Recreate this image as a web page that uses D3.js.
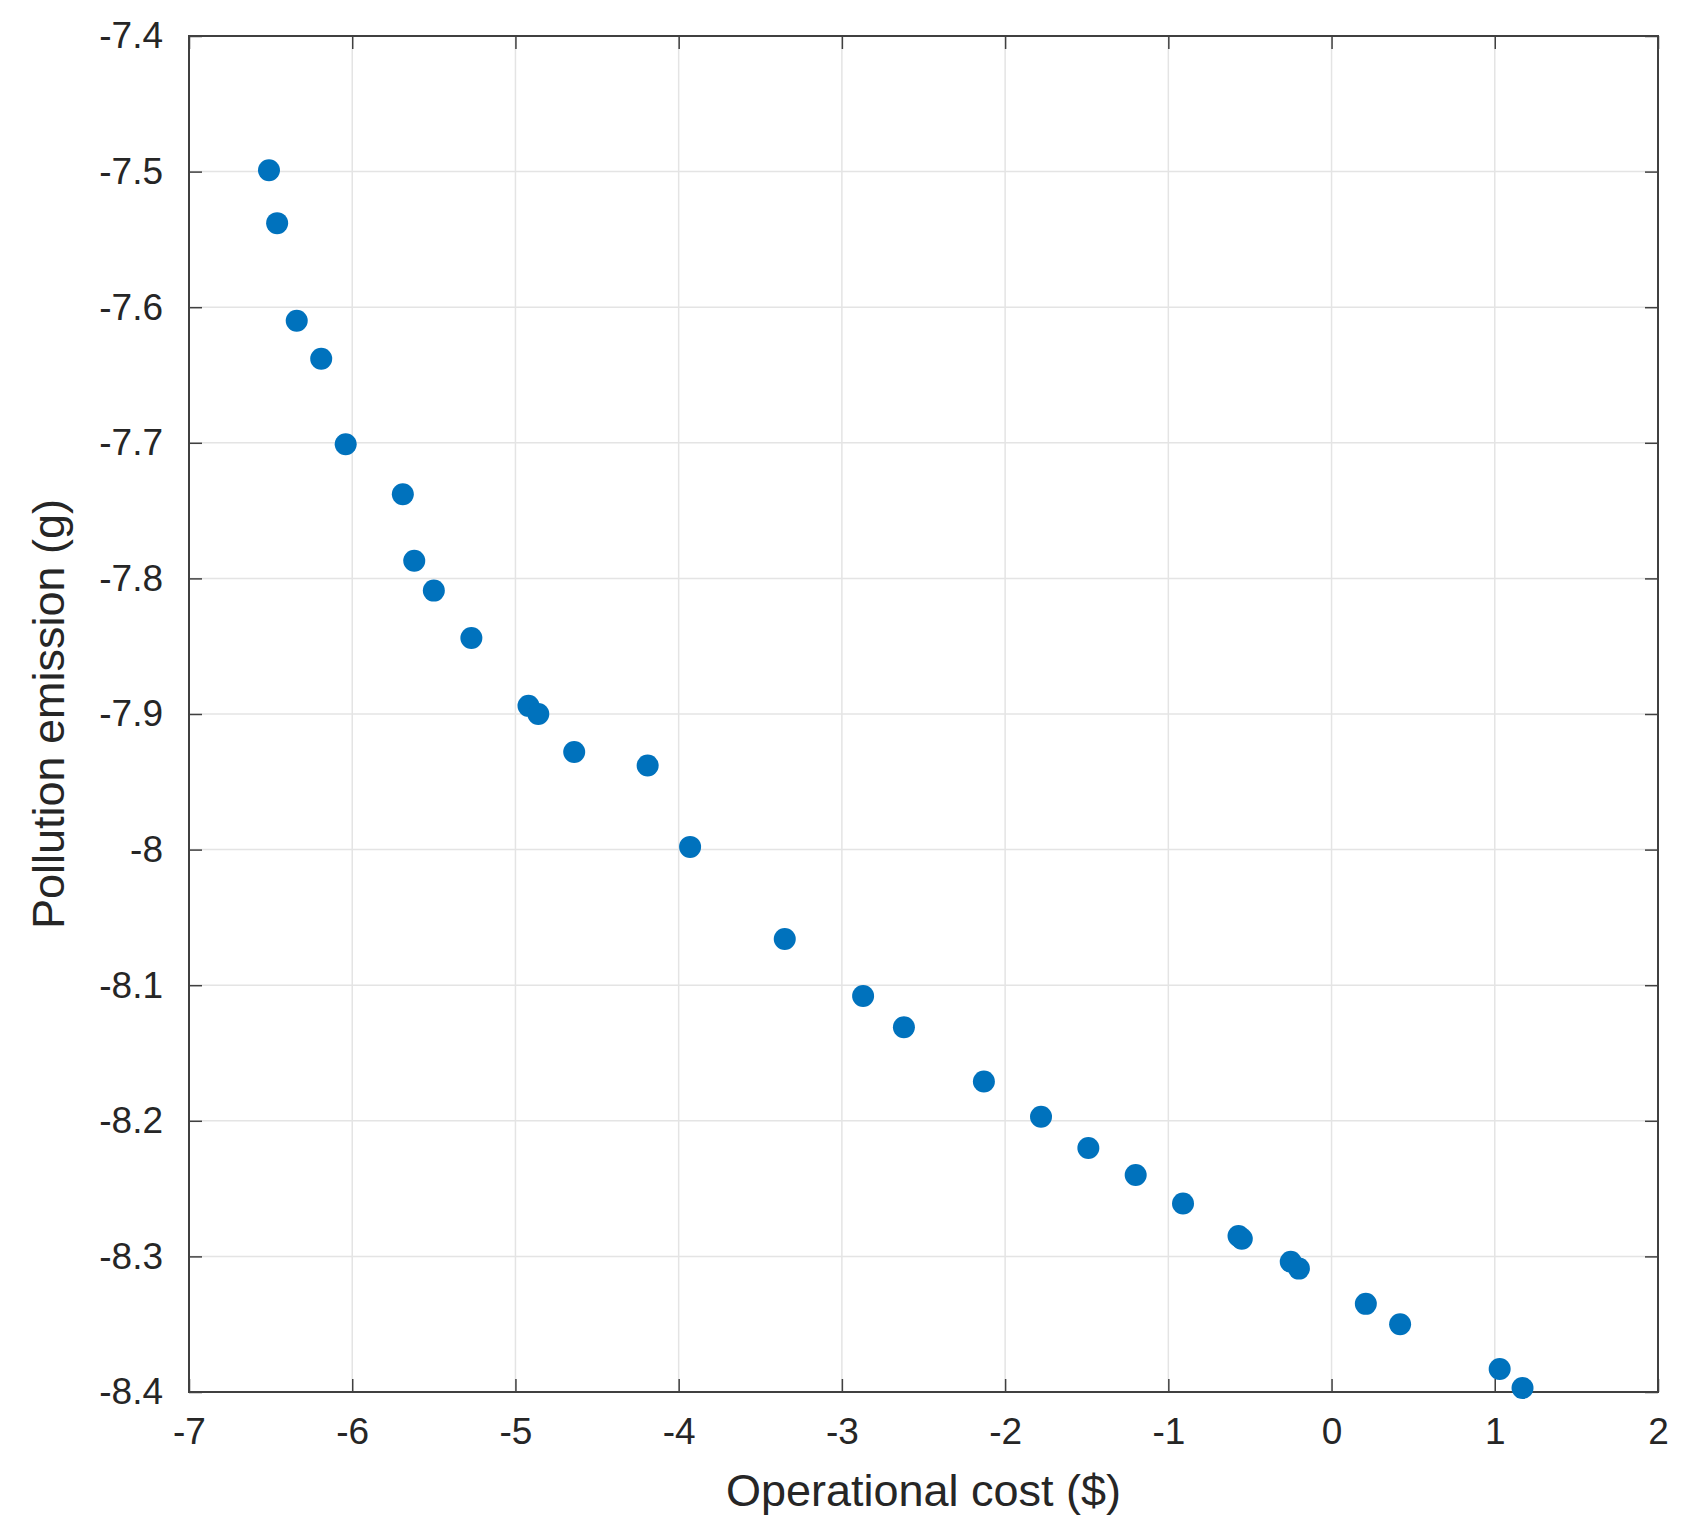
<!DOCTYPE html>
<html>
<head>
<meta charset="utf-8">
<script src="https://cdn.jsdelivr.net/npm/d3@7"></script>
<style>
  body { margin: 0; background: white; }
  text { font-family: Arial, "Liberation Sans", sans-serif; }
</style>
</head>
<body>
<svg id="chart"></svg>
<script>
// Operational cost vs pollution emission scatter
var costValues = [-6.51, -6.46, -6.34, -6.19, -6.04, -5.69, -5.62, -5.50, -5.27, -4.92,
    -4.86, -4.64, -4.19, -3.93, -3.35, -2.87, -2.62, -2.13, -1.78, -1.49,
    -1.20, -0.91, -0.57, -0.55, -0.25, -0.20, 0.21, 0.42, 1.03, 1.17];
var emissionValues = [-7.499, -7.538, -7.610, -7.638, -7.701, -7.738, -7.787, -7.809, -7.844, -7.894,
    -7.900, -7.928, -7.938, -7.998, -8.066, -8.108, -8.131, -8.171, -8.197, -8.220,
    -8.240, -8.261, -8.285, -8.287, -8.304, -8.309, -8.335, -8.350, -8.383, -8.397];
var xTicks = [-7, -6, -5, -4, -3, -2, -1, 0, 1, 2];
var yTicks = [-7.4, -7.5, -7.6, -7.7, -7.8, -7.9, -8, -8.1, -8.2, -8.3, -8.4];

var dimensions = {
    width: 1688,
    height: 1531,
    margin: { top: 36, bottom: 139, right: 30, left: 189 }
};

var svg = d3.select("#chart")
    .attr("width", dimensions.width)
    .attr("height", dimensions.height);

var x0 = dimensions.margin.left, x1 = dimensions.width - dimensions.margin.right;
var y0 = dimensions.height - dimensions.margin.bottom, y1 = dimensions.margin.top;

var xScale = d3.scaleLinear().domain([-7, 2]).range([x0, x1]);
var yScale = d3.scaleLinear().domain([-8.4, -7.4]).range([y0, y1]);

// grid
svg.append("g").selectAll("line").data(xTicks).enter().append("line")
    .attr("x1", d => xScale(d)).attr("x2", d => xScale(d))
    .attr("y1", y1).attr("y2", y0)
    .attr("stroke", "#e4e4e4").attr("stroke-width", 1.5);
svg.append("g").selectAll("line").data(yTicks).enter().append("line")
    .attr("y1", d => yScale(d)).attr("y2", d => yScale(d))
    .attr("x1", x0).attr("x2", x1)
    .attr("stroke", "#e4e4e4").attr("stroke-width", 1.5);

// axes (ticks inward, MATLAB style)
var fmt = d => String(d);
function styleAxis(g) {
    g.select(".domain").remove();
    g.selectAll("line").attr("stroke", "#404040").attr("stroke-width", 1.5);
    g.selectAll("text").attr("fill", "#262626").style("font-size", "37px");
}
svg.append("g").attr("transform", `translate(0,${y0})`)
    .call(d3.axisBottom(xScale).tickValues(xTicks).tickFormat(fmt).tickSizeInner(-13).tickPadding(26))
    .call(styleAxis);
svg.append("g").attr("transform", `translate(0,${y1})`)
    .call(d3.axisTop(xScale).tickValues(xTicks).tickFormat("").tickSizeInner(-13))
    .call(styleAxis);
svg.append("g").attr("transform", `translate(${x0},0)`)
    .call(d3.axisLeft(yScale).tickValues(yTicks).tickFormat(fmt).tickSizeInner(-13).tickPadding(26))
    .call(styleAxis);
svg.append("g").attr("transform", `translate(${x1},0)`)
    .call(d3.axisRight(yScale).tickValues(yTicks).tickFormat("").tickSizeInner(-13))
    .call(styleAxis);

svg.append("rect")
    .attr("x", x0).attr("y", y1).attr("width", x1 - x0).attr("height", y0 - y1)
    .attr("fill", "none").attr("stroke", "#404040").attr("stroke-width", 2);

// points
svg.append("g").selectAll("circle").data(costValues).enter().append("circle")
    .attr("cx", d => xScale(d))
    .attr("cy", (d, i) => yScale(emissionValues[i]))
    .attr("r", 11)
    .attr("fill", "#0072BD");

// labels
svg.append("text")
    .attr("text-anchor", "middle")
    .attr("x", (x0 + x1) / 2)
    .attr("y", 1506)
    .attr("fill", "#262626")
    .style("font-size", "45px")
    .text("Operational cost ($)");

svg.append("text")
    .attr("text-anchor", "middle")
    .attr("transform", `translate(64,${(y0 + y1) / 2}) rotate(-90)`)
    .attr("fill", "#262626")
    .style("font-size", "45px")
    .text("Pollution emission (g)");
</script>
</body>
</html>
